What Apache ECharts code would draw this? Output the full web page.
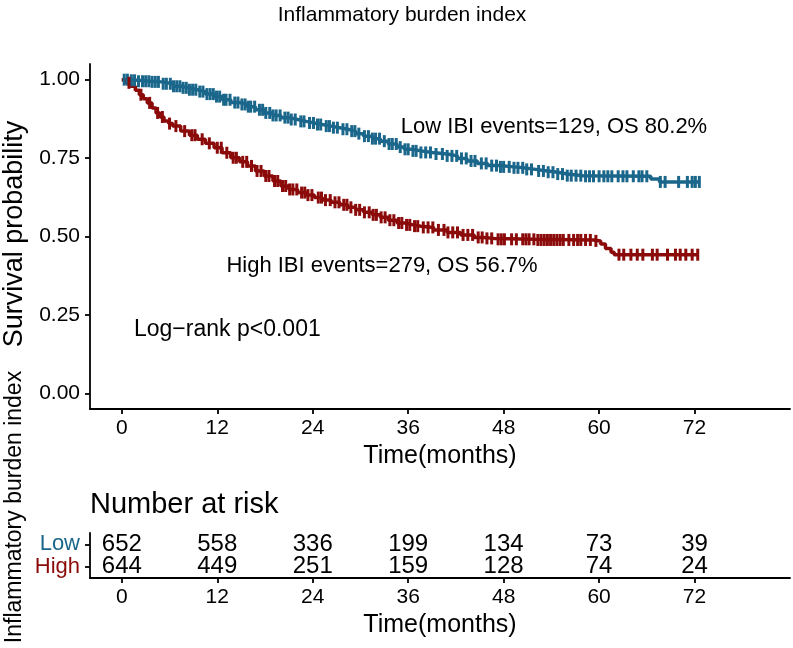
<!DOCTYPE html>
<html>
<head>
<meta charset="utf-8">
<script src="https://cdn.jsdelivr.net/npm/echarts@6/dist/echarts.min.js"></script>
<style>html,body{margin:0;padding:0;background:#fff}#c{width:793px;height:648px}</style>
</head>
<body>
<div id="c"></div>
<script>
// ---- data ----
const lowTimes  = [0,0.8,2,3.6,5,6.5,7.4,8.5,9.5,10.5,11.6,12.6,13.7,14.8,15.8,16.8,17.9,19,20,21,22.1,23.2,24.2,25.2,26.3,27.4,28.4,29.4,30.4,31.5,32.5,33.5,34.6,35.5,36.5,37.6,39,40.9,42.2,43.4,44.7,46,47.5,49.3,50.5,52,53.5,54.8,56,58,66.5,67.6,72.7];
const lowSurv   = [1,0.998,0.995,0.993,0.987,0.979,0.974,0.968,0.962,0.954,0.946,0.936,0.927,0.921,0.914,0.904,0.894,0.886,0.879,0.873,0.867,0.862,0.857,0.852,0.847,0.842,0.836,0.828,0.82,0.812,0.804,0.795,0.785,0.778,0.773,0.768,0.763,0.757,0.749,0.741,0.733,0.726,0.722,0.719,0.714,0.709,0.705,0.699,0.694,0.692,0.683,0.674,0.674];
const highTimes = [0,0.5,1.1,1.7,2.2,2.7,3.2,3.8,4.3,4.8,5.3,5.9,6.4,7.4,8.5,9.5,10.5,11.6,12.6,13.7,14.8,15.8,16.8,17.9,19,20,21,22.1,23.2,24.2,25.2,26.3,27.4,28.4,29.4,30.4,31.5,32.5,33.5,34.6,35.6,36.6,37.6,39.2,40.9,42.6,44.3,45.5,46.8,52,59.3,60.2,60.8,61.5,61.9,72.5];
const highSurv  = [1,0.99,0.979,0.966,0.952,0.939,0.926,0.91,0.894,0.881,0.868,0.86,0.852,0.836,0.823,0.81,0.797,0.783,0.767,0.751,0.738,0.725,0.709,0.693,0.677,0.661,0.65,0.64,0.632,0.624,0.616,0.609,0.601,0.593,0.585,0.577,0.569,0.561,0.552,0.543,0.537,0.533,0.529,0.521,0.513,0.505,0.497,0.494,0.491,0.489,0.486,0.476,0.462,0.45,0.442,0.442];
const lowCensor  = [0.3,0.7,1.2,1.6,2.1,2.6,3.0,3.4,3.8,4.2,4.6,5.2,5.6,6.1,6.5,6.9,7.3,7.7,8.1,8.5,8.9,9.3,9.8,10.2,10.7,11.1,11.5,11.9,12.3,12.8,13.1,13.6,14.2,14.6,15.1,15.5,15.9,16.2,16.7,17.3,17.7,18.1,18.6,19.0,19.4,19.9,20.5,20.9,21.3,21.8,22.5,22.9,23.6,24.1,24.6,25.0,25.7,26.1,26.6,27.1,27.8,28.3,28.9,29.3,29.8,30.5,31,31.5,31.9,32.4,33,33.6,34,34.5,35,35.6,36,36.6,37,37.6,38.2,38.8,39.5,40.3,40.9,41.5,42.1,42.7,43.3,43.9,44.4,45.2,45.8,46.5,47.1,47.6,48,48.7,49.3,49.8,50.4,50.9,51.5,52.4,53,53.6,54.2,54.8,55.4,56,56.5,57.1,57.7,58.3,58.8,59.3,60,60.6,61.1,61.6,62.4,63,63.5,64.3,65,65.4,66,67.7,68.3,70,71.1,71.7,72.1,72.6];
const highCensor = [0.9,2.4,3.5,4.5,5.1,6.0,6.8,7.9,8.8,9.2,10.1,11.0,12.0,12.5,13.2,14.0,14.4,15.2,15.7,16.3,17.0,17.5,18.1,18.5,19.2,19.6,20.2,20.6,21.1,21.5,22.0,22.6,23.0,23.4,23.9,24.7,25.1,25.6,26.2,26.8,27.3,27.9,28.3,28.8,29.4,29.9,30.5,31.1,31.6,32.0,32.6,33.1,33.7,34.2,34.8,35.2,35.8,36.2,36.8,37.2,37.9,38.5,39.1,39.8,40.5,41.0,41.6,42.2,42.9,43.5,44.1,44.8,45.3,45.9,46.5,47.3,47.7,48.1,49,49.6,50.4,50.8,51.2,51.8,52.3,52.7,53.1,53.5,53.9,54.3,54.7,55.1,55.5,56.2,56.8,57.3,57.7,58.3,58.9,59.6,62.5,63.1,64,64.8,65.5,66.7,67.3,68.6,69.6,70.2,70.9,71.7,72.4];
const riskTimes = [0,12,24,36,48,60,72];
const riskLow   = [652,558,336,199,134,73,39];
const riskHigh  = [644,449,251,159,128,74,24];
const xTicks = [0,12,24,36,48,60,72];
const yTicks = [0,0.25,0.5,0.75,1];
const groups = ['High','Low'];

// ---- styling ----
const BLUE = '#1B668B', RED = '#8B0A0A';
const FONT = 'Liberation Sans, Arial, sans-serif';

function stepAt(times, surv, t){let v=surv[0];for(let i=0;i<times.length;i++){if(times[i]<=t)v=surv[i];}return v;}
const pair = (ts, vs) => ts.map((t,i)=>[t,vs[i]]);
const censorPts = (cs, ts, vs) => cs.map(t=>[t, stepAt(ts,vs,t)]);

const axLine = () => ({show:true,onZero:false,lineStyle:{color:'#000',width:1.8}});
const axTick = (extra) => Object.assign({show:true,length:5,lineStyle:{color:'#000',width:1.8}}, extra||{});
const xAx = (gi) => ({gridIndex:gi,type:'value',min:-4,max:84,splitLine:{show:false},
     axisLine:axLine(),axisTick:axTick({customValues:xTicks}),
     axisLabel:{customValues:xTicks,color:'#000',fontSize:21,margin:9,fontFamily:FONT},
     name:'Time(months)',nameLocation:'middle',nameGap:35,nameTextStyle:{color:'#000',fontSize:25,fontFamily:FONT}});

const chart = echarts.init(document.getElementById('c'), null, {renderer:'canvas'});
chart.setOption({
  animation:false,
  textStyle:{fontFamily:FONT},
  grid:[
    {left:90,right:3,top:64,height:345},
    {left:90,right:3,top:533,height:45}
  ],
  xAxis:[xAx(0), xAx(1)],
  yAxis:[
    {gridIndex:0,type:'value',min:-0.05,max:1.05,splitLine:{show:false},
     axisLine:axLine(),axisTick:axTick({customValues:yTicks}),
     axisLabel:{customValues:yTicks,color:'#000',fontSize:21,margin:10,fontFamily:FONT,formatter:v=>v.toFixed(2)}},
    {gridIndex:1,type:'category',data:groups,
     axisLine:axLine(),axisTick:axTick({alignWithLabel:true,interval:0}),
     axisLabel:{interval:0,fontSize:22,margin:10,fontFamily:FONT,formatter:v=>'{'+v+'|'+v+'}',
       rich:{Low:{color:BLUE,fontSize:22,fontFamily:FONT},High:{color:RED,fontSize:22,fontFamily:FONT}}}}
  ],
  series:[
    {type:'line',xAxisIndex:0,yAxisIndex:0,step:'end',symbol:'none',data:pair(lowTimes,lowSurv),lineStyle:{color:BLUE,width:3.5},z:2},
    {type:'line',xAxisIndex:0,yAxisIndex:0,step:'end',symbol:'none',data:pair(highTimes,highSurv),lineStyle:{color:RED,width:3.5},z:2},
    {type:'scatter',xAxisIndex:0,yAxisIndex:0,symbol:'rect',symbolSize:[3,12],data:censorPts(lowCensor,lowTimes,lowSurv),itemStyle:{color:BLUE,opacity:1},z:3},
    {type:'scatter',xAxisIndex:0,yAxisIndex:0,symbol:'rect',symbolSize:[3,12],data:censorPts(highCensor,highTimes,highSurv),itemStyle:{color:RED,opacity:1},z:3},
    {type:'scatter',xAxisIndex:1,yAxisIndex:1,symbolSize:1,itemStyle:{color:'rgba(0,0,0,0)',opacity:1},
     data:riskTimes.map((t,i)=>[t,'Low',riskLow[i]]),
     label:{show:true,position:'inside',color:'#000',fontSize:24,fontFamily:FONT,formatter:p=>String(p.value[2])}},
    {type:'scatter',xAxisIndex:1,yAxisIndex:1,symbolSize:1,itemStyle:{color:'rgba(0,0,0,0)',opacity:1},
     data:riskTimes.map((t,i)=>[t,'High',riskHigh[i]]),
     label:{show:true,position:'inside',color:'#000',fontSize:24,fontFamily:FONT,formatter:p=>String(p.value[2])}}
  ],
  graphic:[
    {type:'text',style:{text:'Inflammatory burden index',x:402,y:15,align:'center',verticalAlign:'middle',fill:'#000',font:'21px '+FONT}},
    {type:'text',rotation:Math.PI/2,x:15,y:234,style:{text:'Survival probability',x:0,y:0,align:'center',verticalAlign:'middle',fill:'#000',font:'27px '+FONT}},
    {type:'text',rotation:Math.PI/2,x:15,y:507,style:{text:'Inflammatory burden index',x:0,y:0,align:'center',verticalAlign:'middle',fill:'#000',font:'23px '+FONT}},
    {type:'text',style:{text:'Low IBI events=129, OS 80.2%',x:554,y:127,align:'center',verticalAlign:'middle',fill:'#000',font:'22px '+FONT}},
    {type:'text',style:{text:'High IBI events=279, OS 56.7%',x:382,y:266,align:'center',verticalAlign:'middle',fill:'#000',font:'22px '+FONT}},
    {type:'text',style:{text:'Log\u2212rank p<0.001',x:134,y:330,align:'left',verticalAlign:'middle',fill:'#000',font:'23px '+FONT}},
    {type:'text',style:{text:'Number at risk',x:90,y:505,align:'left',verticalAlign:'middle',fill:'#000',font:'29px '+FONT}}
  ]
});
</script>
</body>
</html>
